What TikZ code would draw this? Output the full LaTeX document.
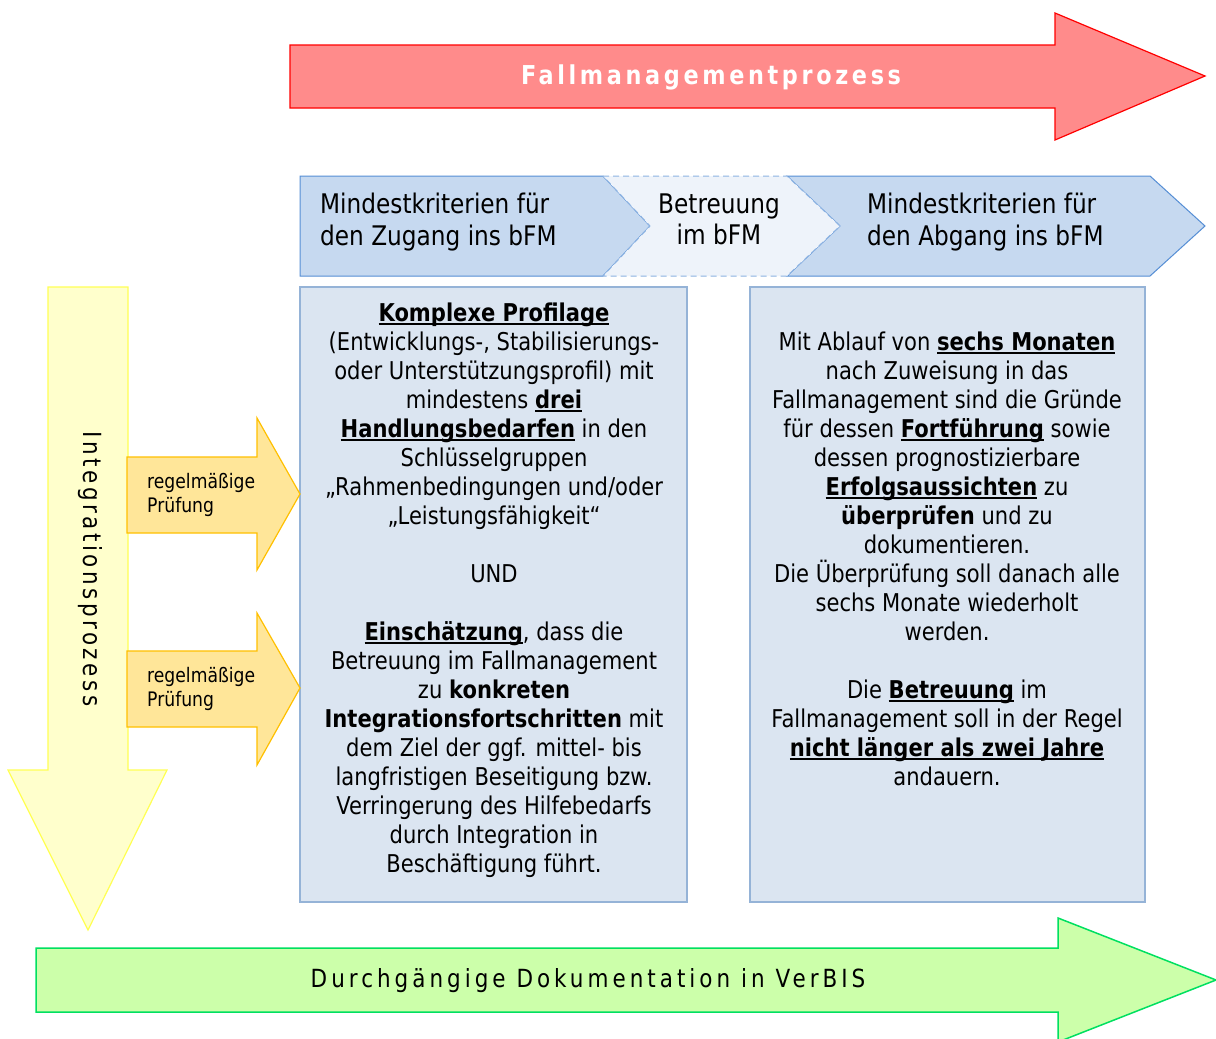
\documentclass[tikz,border=0pt]{standalone}
\usepackage{fontspec}
\setmainfont[FakeStretch=0.86]{DejaVu Sans}
\newfontfamily\spacedfont[FakeStretch=0.86,LetterSpace=14]{DejaVu Sans}
\newfontfamily\greenfont[FakeStretch=0.86,LetterSpace=16]{DejaVu Sans}
\newfontfamily\redfont[FakeStretch=0.86,LetterSpace=14]{DejaVu Sans}
\newsavebox{\ulbox}
\newcommand{\bu}[1]{\mbox{\sbox{\ulbox}{\textbf{#1}}\rlap{\rule[-3.5pt]{\wd\ulbox}{1.7pt}}\usebox{\ulbox}}}
\definecolor{redfill}{HTML}{FF8B8B}
\definecolor{redline}{HTML}{FF0000}
\definecolor{chevfill}{HTML}{C6D9F0}
\definecolor{chevline}{HTML}{558ED5}
\definecolor{midfill}{HTML}{EEF3FA}
\definecolor{midline}{HTML}{8DB3E2}
\definecolor{boxfill}{HTML}{DBE5F1}
\definecolor{boxline}{HTML}{95B3D7}
\definecolor{yelfill}{HTML}{FFFFCC}
\definecolor{yelline}{HTML}{FFFF55}
\definecolor{orfill}{HTML}{FFE699}
\definecolor{orline}{HTML}{FFC000}
\definecolor{grfill}{HTML}{CCFFAA}
\definecolor{grline}{HTML}{00E060}
\begin{document}
\begin{tikzpicture}[x=1pt,y=-1pt,
  body/.style={align=center,inner sep=0pt,font=\fontsize{24.5}{29}\selectfont},
  chev/.style={align=left,inner sep=0pt,anchor=west,font=\fontsize{27}{32}\selectfont},
  orlabel/.style={align=left,inner sep=0pt,anchor=west,font=\fontsize{20}{24}\selectfont},
  redarrow/.style={fill=redfill,draw=redline,line width=1.2pt,line join=miter},
  greenarrow/.style={fill=grfill,draw=grline,line width=1.5pt},
  yelarrow/.style={fill=yelfill,draw=yelline,line width=1.2pt},
  orarrow/.style={fill=orfill,draw=orline,line width=1.2pt},
  infobox/.style={fill=boxfill,draw=boxline,line width=1.2pt},
  chevshape/.style={fill=chevfill,draw=chevline,line width=1pt},
  midshape/.style={fill=midfill,draw=midline,line width=1pt,dash pattern=on 6pt off 4pt}]
\useasboundingbox (0,0) rectangle (1216,1039);
\clip (0,0) rectangle (1216,1039);
\fill[white] (0,0) rectangle (1216,1039);

% red arrow
\draw[redarrow] (290,45) -- (1055,45) -- (1055,13) -- (1205,76) -- (1055,140) -- (1055,108) -- (290,108) -- cycle;
\node[text=white,font=\redfont\bfseries\fontsize{26}{30}\selectfont] (fm) at (711,77) {Fallmanagementprozess};

% chevrons
\draw[chevshape] (300,176) -- (603,176) -- (650,226) -- (603,276) -- (300,276) -- cycle;
\draw[chevshape] (787,176) -- (1150,176) -- (1205,226) -- (1150,276) -- (787,276) -- (840,226) -- cycle;
\draw[midshape] (603,176) -- (787,176) -- (840,226) -- (787,276) -- (603,276) -- (650,226) -- cycle;
\node[chev] (zug) at (320,222) {Mindestkriterien für\\den Zugang ins bFM};
\node[align=center,inner sep=0pt,font=\fontsize{27}{31}\selectfont] (betr) at (719,219) {Betreuung\\im bFM};
\node[chev] (abg) at (867,222) {Mindestkriterien für\\den Abgang ins bFM};

% boxes
\draw[infobox] (300,287) rectangle (687,902);
\draw[infobox] (750,287) rectangle (1145,902);

\node[body] (left) at (494,590) {%
\bu{Komplexe Profilage}\\
(Entwicklungs-, Stabilisierungs-\\
oder Unterstützungsprofil) mit\\
mindestens \bu{drei}\\
\bu{Handlungsbedarfen} in den\\
Schlüsselgruppen\\
„Rahmenbedingungen und/oder\\
„Leistungsfähigkeit“\\[29pt]
UND\\[29pt]
\bu{Einschätzung}, dass die\\
Betreuung im Fallmanagement\\
zu \textbf{konkreten}\\
\textbf{Integrationsfortschritten} mit\\
dem Ziel der ggf. mittel- bis\\
langfristigen Beseitigung bzw.\\
Verringerung des Hilfebedarfs\\
durch Integration in\\
Beschäftigung führt.};

\node[body] (right) at (947,559) {%
Mit Ablauf von \bu{sechs Monaten}\\
nach Zuweisung in das\\
Fallmanagement sind die Gründe\\
für dessen \bu{Fortführung} sowie\\
dessen prognostizierbare\\
\bu{Erfolgsaussichten} zu\\
\textbf{überprüfen} und zu\\
dokumentieren.\\
Die Überprüfung soll danach alle\\
sechs Monate wiederholt\\
werden.\\[29pt]
Die \bu{Betreuung} im\\
Fallmanagement soll in der Regel\\
\bu{nicht länger als zwei Jahre}\\
andauern.};

% yellow arrow
\draw[yelarrow] (48,287) -- (128,287) -- (128,770) -- (167,770) -- (88,930) -- (8,770) -- (48,770) -- cycle;
\node[rotate=-90,font=\spacedfont\fontsize{25}{28}\selectfont] (ip) at (90,569) {Integrationsprozess};

% orange arrows
\draw[orarrow] (127,457) -- (257,457) -- (257,418) -- (300,494) -- (257,570) -- (257,533) -- (127,533) -- cycle;
\node[orlabel] (p1) at (147,495) {regelmäßige\\Prüfung};
\draw[orarrow] (127,651) -- (257,651) -- (257,613) -- (300,688) -- (257,765) -- (257,727) -- (127,727) -- cycle;
\node[orlabel] (p2) at (147,689) {regelmäßige\\Prüfung};

% green arrow
\draw[greenarrow] (36,948) -- (1058,948) -- (1058,918) -- (1216,980) -- (1058,1042) -- (1058,1012) -- (36,1012) -- cycle;
\node[font=\greenfont\fontsize{25}{28}\selectfont] (doc) at (588,981) {Durchgängige Dokumentation in VerBIS};
\end{tikzpicture}
\end{document}
